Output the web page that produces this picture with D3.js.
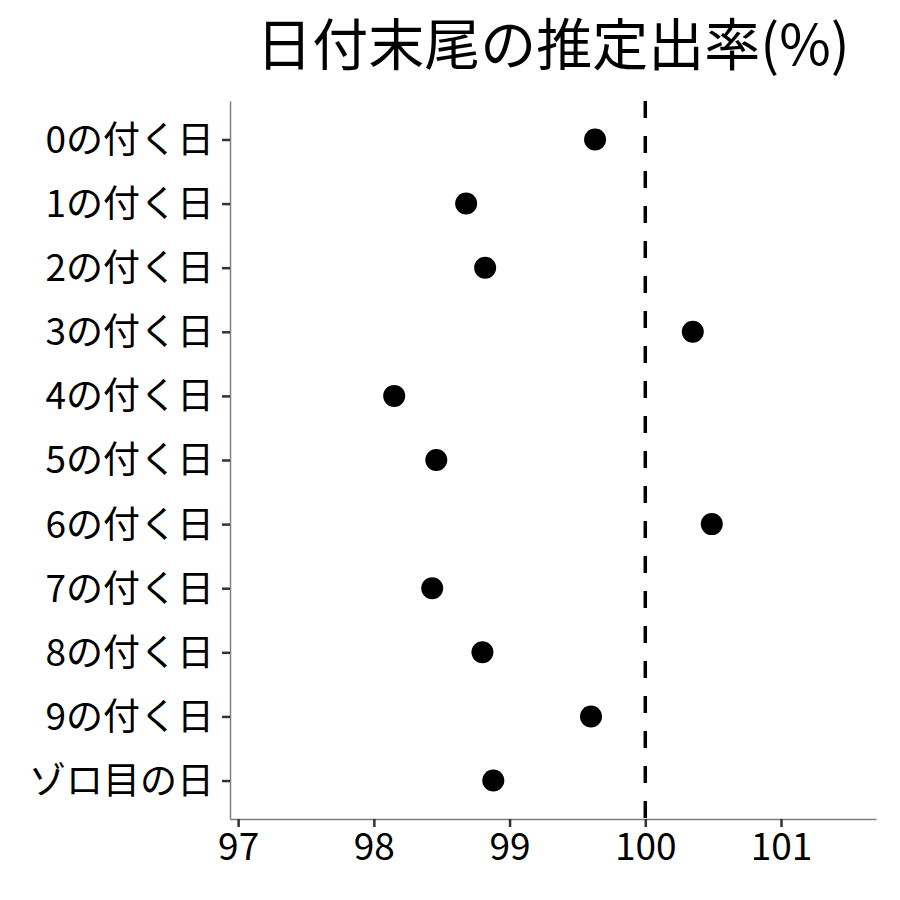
<!DOCTYPE html>
<html lang="ja">
<head>
  <meta charset="UTF-8">
  <title>日付末尾の推定出率(%)</title>
  <script src="https://cdn.jsdelivr.net/npm/d3@7"></script>
  <style>
    body { margin: 0; background: #fff; }
    svg text { font-family: "Noto Sans CJK JP", "Noto Sans", sans-serif; fill: #000; }
  </style>
</head>
<body>
  <div id="chart"></div>
  <script>
    // データ
    const categories = ["0の付く日", "1の付く日", "2の付く日", "3の付く日", "4の付く日",
      "5の付く日", "6の付く日", "7の付く日", "8の付く日", "9の付く日", "ゾロ目の日"];
    const rates = [99.63, 98.68, 98.82, 100.35, 98.15, 98.46, 100.49, 98.43, 98.80, 99.60, 98.88];
    const xTicks = [97, 98, 99, 100, 101];
    const refLine = 100;
    const titleText = "日付末尾の推定出率(%)";

    const width = 900, height = 900;
    const margin = { top: 101, right: 24, bottom: 81, left: 230 };

    const svg = d3.select("#chart").append("svg")
      .attr("width", width)
      .attr("height", height);

    const x = d3.scaleLinear()
      .domain([96.94, 101.70])
      .range([margin.left, width - margin.right]);

    const idx = d3.range(categories.length);
    const y = d3.scaleLinear()
      .domain([-0.6, categories.length - 1 + 0.6])
      .range([margin.top, height - margin.bottom]);

    // 軸
    const xAxis = svg.append("g")
      .attr("transform", `translate(0,${height - margin.bottom})`)
      .call(d3.axisBottom(x).tickValues(xTicks).tickFormat(d3.format("d"))
        .tickSize(8).tickPadding(6).tickSizeOuter(0));
    xAxis.select(".domain").attr("stroke", "#7f7f7f").attr("stroke-width", 1.5);
    xAxis.selectAll(".tick line").attr("stroke", "#333").attr("stroke-width", 2.5);
    xAxis.selectAll(".tick text").attr("font-size", 37).attr("dy", "0.72em");

    const yAxis = svg.append("g")
      .attr("transform", `translate(${margin.left},0)`)
      .call(d3.axisLeft(y).tickValues(idx).tickFormat(i => categories[i])
        .tickSize(8).tickPadding(8).tickSizeOuter(0));
    yAxis.select(".domain").attr("stroke", "#7f7f7f").attr("stroke-width", 1.5);
    yAxis.selectAll(".tick line").attr("stroke", "#333").attr("stroke-width", 2.5);
    yAxis.selectAll(".tick text").attr("font-size", 37).attr("dy", "0.35em");

    // 基準線
    svg.append("line")
      .attr("x1", x(refLine)).attr("x2", x(refLine))
      .attr("y1", margin.top).attr("y2", height - margin.bottom)
      .attr("stroke", "#000")
      .attr("stroke-width", 3.5)
      .attr("stroke-dasharray", "17,18");

    // 点
    svg.append("g").selectAll("circle")
      .data(rates)
      .join("circle")
      .attr("cx", d => x(d))
      .attr("cy", (d, i) => y(i))
      .attr("r", 11)
      .attr("fill", "#000");

    // タイトル
    svg.append("text")
      .attr("x", (margin.left + width - margin.right) / 2)
      .attr("y", 65)
      .attr("text-anchor", "middle")
      .attr("font-size", 56)
      .text(titleText);
  </script>
</body>
</html>
